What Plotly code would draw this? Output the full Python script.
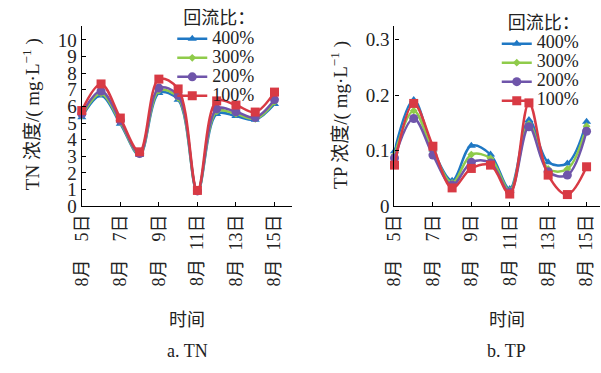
import plotly.graph_objects as go

DAYS = [5, 6, 7, 8, 9, 10, 11, 12, 13, 14, 15]
TICK_DAYS = [5, 7, 9, 11, 13, 15]
NB = "\u00a0"
TICK_TEXT = ["8月" + NB * 4 + "5日", "8月" + NB * 4 + "7日", "8月" + NB * 4 + "9日",
             "8月" + NB * 2 + "11日", "8月" + NB * 2 + "13日", "8月" + NB * 2 + "15日"]
SERIES = ["400%", "300%", "200%", "100%"]

TN_400 = [5.35, 6.65, 4.95, 3.08, 6.8, 6.4, 0.88, 5.55, 5.42, 5.2, 6.15]
TN_300 = [5.45, 6.78, 5.05, 3.12, 6.95, 6.52, 0.9, 5.7, 5.55, 5.25, 6.27]
TN_200 = [5.55, 6.92, 5.15, 3.17, 7.1, 6.66, 0.92, 5.85, 5.68, 5.33, 6.41]
TN_100 = [5.75, 7.35, 5.3, 3.27, 7.64, 7.05, 0.95, 6.33, 6.08, 5.66, 6.86]

TP_400 = [0.099, 0.191, 0.102, 0.046, 0.109, 0.093, 0.031, 0.155, 0.079, 0.077, 0.152]
TP_300 = [0.092, 0.172, 0.099, 0.042, 0.093, 0.086, 0.028, 0.148, 0.067, 0.067, 0.144]
TP_200 = [0.087, 0.158, 0.092, 0.038, 0.079, 0.078, 0.025, 0.143, 0.062, 0.056, 0.135]
TP_100 = [0.074, 0.185, 0.108, 0.033, 0.068, 0.074, 0.022, 0.186, 0.056, 0.021, 0.071]

COLORS = {"400%": "#1f78c4", "300%": "#8fcb4a", "200%": "#6f55aa", "100%": "#d83a44"}
SYMBOLS = {"400%": "triangle-up", "300%": "diamond", "200%": "circle", "100%": "square"}
SIZES = {"400%": 8, "300%": 6, "200%": 9, "100%": 9}

TN = {"400%": TN_400, "300%": TN_300, "200%": TN_200, "100%": TN_100}
TP = {"400%": TP_400, "300%": TP_300, "200%": TP_200, "100%": TP_100}

FONT = "Liberation Serif, Noto Sans CJK SC, serif"
TXT = "#222"

fig = go.Figure()
for name in SERIES:
    fig.add_trace(go.Scatter(
        x=DAYS, y=TN[name], name=f'<span style="font-size:18px">{name}</span>',
        mode="lines+markers", line=dict(color=COLORS[name], width=2.5, shape="spline", smoothing=1),
        marker=dict(symbol=SYMBOLS[name], size=SIZES[name], color=COLORS[name]),
        cliponaxis=False, xaxis="x", yaxis="y", legend="legend"))
for name in SERIES:
    fig.add_trace(go.Scatter(
        x=DAYS, y=TP[name], name=f'<span style="font-size:18px">{name}</span>',
        mode="lines+markers", line=dict(color=COLORS[name], width=2.5, shape="spline", smoothing=1),
        marker=dict(symbol=SYMBOLS[name], size=SIZES[name], color=COLORS[name]),
        cliponaxis=False, xaxis="x2", yaxis="y2", legend="legend2"))

axis_common = dict(showline=True, linecolor="black", linewidth=1.3, ticks="inside", ticklen=4,
                   tickcolor="black", showgrid=False, zeroline=False, mirror=False)

xcommon = dict(axis_common, tickvals=TICK_DAYS, ticktext=TICK_TEXT, tickangle=-90,
               tickfont=dict(family=FONT, size=18, color=TXT))

legend_common = dict(xanchor="left", yanchor="top", bgcolor="rgba(0,0,0,0)",
                     font=dict(family=FONT, size=12, color=TXT), itemwidth=30, tracegroupgap=0,
                     title=dict(text=NB * 3 + '<span style="font-size:18px">回流比：</span>', side="top",
                                font=dict(family=FONT, size=12, color=TXT)))

fig.update_layout(
    width=601, height=373, margin=dict(l=0, r=0, t=0, b=0),
    paper_bgcolor="white", plot_bgcolor="white",
    font=dict(family=FONT, color=TXT),
    xaxis=dict(xcommon, domain=[73/601, 287/601], range=[5, 15.92], anchor="y"),
    yaxis=dict(axis_common, domain=[1-212.5/373, 1-27/373], range=[0, 10.82], anchor="x",
               tickvals=list(range(0, 11)), tickfont=dict(family=FONT, size=19, color=TXT)),
    xaxis2=dict(xcommon, domain=[391/601, 600/601], range=[5, 15.7], anchor="y2"),
    yaxis2=dict(axis_common, domain=[1-212.5/373, 1-27/373], range=[0, 0.324], anchor="x2",
                tickvals=[0, 0.1, 0.2, 0.3], ticktext=["0", "0.1", "0.2", "0.3"],
                tickfont=dict(family=FONT, size=19, color=TXT)),
    legend=dict(legend_common, x=165/601, y=1-9/373),
    legend2=dict(legend_common, x=495/601, y=1-14/373),
    showlegend=True,
)

ann = [
    dict(text="TN 浓度/( mg·L<sup>−1</sup> )", x=22/601, y=1-118/373, textangle=-90, font_size=19),
    dict(text="TP 浓度/( mg·L<sup>−1</sup> )", x=335/601, y=1-118/373, textangle=-90, font_size=19),
    dict(text="时间", x=180/601, y=1-330/373, font_size=18),
    dict(text="时间", x=505/601, y=1-330/373, font_size=18),
    dict(text="a. TN", x=180/601, y=1-362/373, font_size=18),
    dict(text="b. TP", x=505/601, y=1-362/373, font_size=18),
]
for a in ann:
    fig.add_annotation(xref="paper", yref="paper", showarrow=False, xanchor="center", yanchor="middle",
                       font=dict(family=FONT, color=TXT, size=a.pop("font_size")), **a)

fig.write_html("out.html")
